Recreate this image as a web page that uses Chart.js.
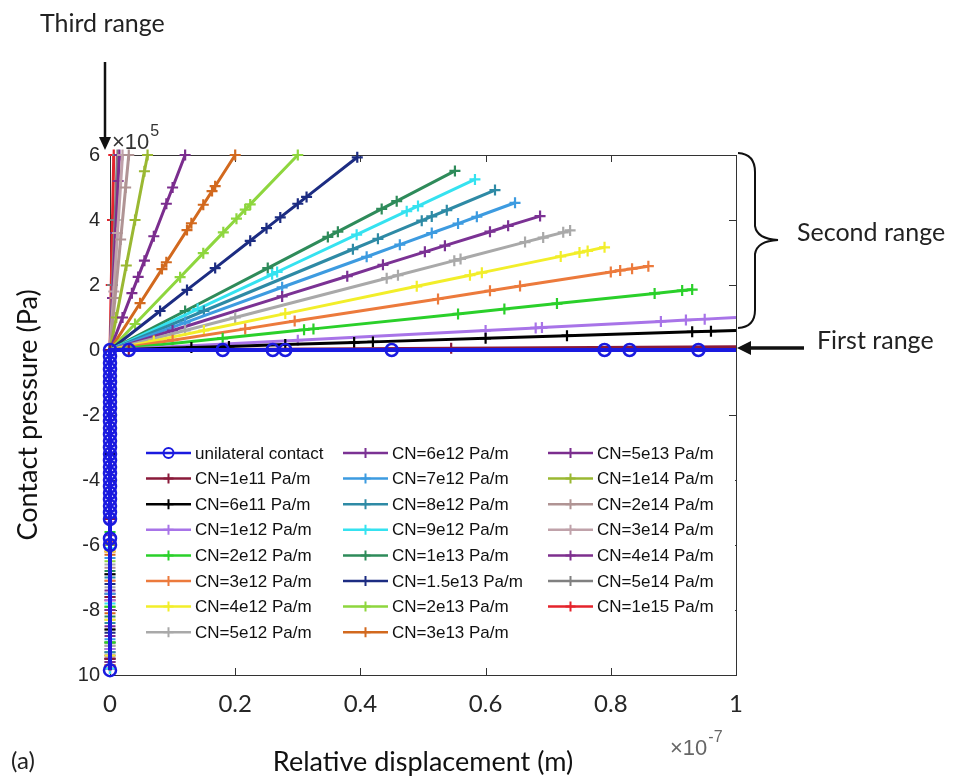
<!DOCTYPE html>
<html>
<head>
<meta charset="utf-8">
<script src="https://cdn.jsdelivr.net/npm/chart.js@4/dist/chart.umd.min.js"></script>
<style>
  body { margin: 0; background: #fff; }
  canvas { display: block; }
</style>
</head>
<body>
<canvas id="myChart" width="956" height="781"></canvas>
<script>
// series data (x in 1e-7 m, y in 1e5 Pa)
const labels = [
  'unilateral contact', 'CN=1e11 Pa/m', 'CN=6e11 Pa/m', 'CN=1e12 Pa/m', 'CN=2e12 Pa/m',
  'CN=3e12 Pa/m', 'CN=4e12 Pa/m', 'CN=5e12 Pa/m', 'CN=6e12 Pa/m', 'CN=7e12 Pa/m',
  'CN=8e12 Pa/m', 'CN=9e12 Pa/m', 'CN=1e13 Pa/m', 'CN=1.5e13 Pa/m', 'CN=2e13 Pa/m',
  'CN=3e13 Pa/m', 'CN=5e13 Pa/m', 'CN=1e14 Pa/m', 'CN=2e14 Pa/m', 'CN=3e14 Pa/m',
  'CN=4e14 Pa/m', 'CN=5e14 Pa/m', 'CN=1e15 Pa/m'
];

const colors = [
  '#1a1adf', '#8a1a3a', '#000000', '#a874e8', '#2ad02a',
  '#ec7a3c', '#f2ee2a', '#a9a9a9', '#7b3294', '#3d9be0',
  '#2e8aa5', '#35e2f0', '#2e8b5a', '#1c2c82', '#8ed63e',
  '#d2691e', '#7b2d8e', '#9ab832', '#b09494', '#c0a2aa',
  '#7e2f8e', '#808080', '#e5232b'
];

const xValues = [
  [0,0,0,0,0,0,0,0,0,0,0,0,0,0,0,0,0,0,0,0,0,0,0,0,0,0,0,0,0,0, 0.03,0.18,0.26,0.28,0.45,0.79,0.83,0.94,1],
  [0,0,0,0, 0.03,0.545,1],
  [0,0,0,0, 0.13,0.19,0.28,0.39,0.42,0.6,0.73,0.93,0.96,1],
  [0,0,0,0, 0.3,0.6,0.68,0.69,0.88,0.92,0.95,1],
  [0,0,0,0, 0.18,0.31,0.325,0.556,0.63,0.714,0.87,0.914,0.93],
  [0,0,0,0, 0.1,0.216,0.295,0.524,0.607,0.655,0.8,0.815,0.834,0.86],
  [0,0,0,0, 0.07,0.15,0.28,0.49,0.575,0.594,0.72,0.75,0.763,0.79],
  [0,0,0,0, 0.12,0.2,0.442,0.46,0.55,0.56,0.663,0.692,0.724,0.735],
  [0,0,0,0, 0.1,0.275,0.379,0.436,0.503,0.535,0.607,0.636,0.687],
  [0,0,0,0, 0.12,0.275,0.41,0.463,0.514,0.556,0.586,0.647],
  [0,0,0,0, 0.15,0.388,0.428,0.498,0.514,0.538,0.615],
  [0,0,0,0, 0.14,0.259,0.267,0.394,0.474,0.492,0.583],
  [0,0,0,0, 0.12,0.252,0.348,0.364,0.434,0.458,0.551],
  [0,0,0,0, 0.08,0.123,0.168,0.224,0.25,0.272,0.3,0.314,0.395],
  [0,0,0,0, 0.04,0.112,0.149,0.181,0.202,0.216,0.224,0.3],
  [0,0,0,0, 0.048,0.083,0.09,0.123,0.13,0.149,0.163,0.168,0.2],
  [0,0,0,0, 0.02,0.035,0.045,0.055,0.07,0.09,0.1,0.12],
  [0,0,0,0, 0.01,0.026,0.04,0.055,0.06],
  [0,0,0,0, 0.008,0.017,0.025,0.03],
  [0,0,0,0, 0.006,0.012,0.02],
  [0,0,0,0, 0.004,0.009,0.013,0.015],
  [0,0,0,0, 0.004,0.008,0.012],
  [0,0,0,0, 0.002,0.004,0.006]
];

const yValues = [
  [-9.85,-6.0,-5.8,-5.2,-5.0,-4.8,-4.6,-4.4,-4.2,-4.0,-3.8,-3.6,-3.4,-3.2,-3.0,-2.8,-2.6,-2.4,-2.2,-2.0,-1.8,-1.6,-1.4,-1.2,-1.0,-0.8,-0.6,-0.4,-0.2,0, 0,0,0,0,0,0,0,0,0],
  [-9.5,-7.6,-5.2,0, 0.003,0.055,0.1],
  [-8.6,-6.9,-3.2,0, 0.08,0.11,0.17,0.23,0.25,0.36,0.44,0.56,0.58,0.6],
  [-9.2,-7.7,-5.3,0, 0.3,0.6,0.68,0.69,0.88,0.92,0.95,1],
  [-9.0,-7.9,-5.6,0, 0.36,0.62,0.65,1.11,1.26,1.43,1.74,1.83,1.86],
  [-9.7,-7.1,-5.9,0, 0.3,0.65,0.89,1.57,1.82,1.97,2.4,2.45,2.5,2.58],
  [-9.4,-8.3,-6.2,0, 0.28,0.6,1.12,1.96,2.3,2.38,2.88,3.0,3.05,3.16],
  [-9.1,-7.3,-6.6,0, 0.6,1.0,2.21,2.3,2.75,2.8,3.32,3.46,3.62,3.68],
  [-9.6,-8.0,-5.7,0, 0.6,1.65,2.27,2.62,3.02,3.21,3.64,3.82,4.12],
  [-8.9,-7.5,-6.4,0, 0.84,1.93,2.87,3.24,3.6,3.89,4.1,4.53],
  [-9.3,-8.4,-7.0,0, 1.2,3.1,3.42,3.98,4.11,4.3,4.92],
  [-9.8,-7.8,-6.1,0, 1.26,2.33,2.4,3.55,4.27,4.43,5.25],
  [-9.0,-8.2,-6.8,0, 1.2,2.52,3.48,3.64,4.34,4.58,5.51],
  [-9.5,-8.7,-7.2,0, 1.2,1.85,2.52,3.36,3.75,4.08,4.5,4.71,5.93],
  [-9.2,-7.6,-6.5,0, 0.8,2.24,2.98,3.62,4.04,4.32,4.48,6],
  [-9.7,-8.1,-6.3,0, 1.44,2.49,2.7,3.69,3.9,4.47,4.89,5.04,6],
  [-9.4,-8.5,-7.4,0, 1.0,1.75,2.25,2.75,3.5,4.5,5.0,6],
  [-9.0,-7.9,-6.0,0, 1.0,2.6,4.0,5.5,6],
  [-9.6,-8.0,-6.7,0, 1.6,3.4,5.0,6],
  [-9.1,-8.3,-7.1,0, 1.8,3.6,6],
  [-9.8,-8.8,-7.5,0, 1.6,3.6,5.2,6],
  [-9.3,-8.6,-6.9,0, 2.0,4.0,6],
  [-9.5,-7.7,-6.2,0, 2.0,4.0,6]
];

const xTickLabels = ['0', '0.2', '0.4', '0.6', '0.8', '1'];
const yTickLabels = ['10', '-8', '-6', '-4', '-2', '0', '2', '4', '6'];

const datasets = labels.map(function (label, i) {
  const isCircle = i === 0;
  return {
    label: label,
    data: xValues[i].map(function (x, j) { return { x: x, y: yValues[i][j] }; }),
    showLine: true,
    borderColor: colors[i],
    backgroundColor: 'rgba(0,0,0,0)',
    borderWidth: isCircle ? 4 : 3,
    pointStyle: isCircle ? 'circle' : 'cross',
    pointRadius: function (c) { return c.raw && c.raw.x === 1 ? 0 : (isCircle ? 6 : 5.5); },
    pointBorderWidth: isCircle ? 2.5 : 2.2,
    pointBorderColor: colors[i],
    pointBackgroundColor: 'rgba(0,0,0,0)',
    tension: 0,
    clip: false
  };
});

function drawMarker(ctx, style, x, y, r) {
  ctx.beginPath();
  if (style === 'circle') {
    ctx.arc(x, y, r, 0, Math.PI * 2);
  } else {
    ctx.moveTo(x - r, y); ctx.lineTo(x + r, y);
    ctx.moveTo(x, y - r); ctx.lineTo(x, y + r);
  }
  ctx.stroke();
}

// "×10" with a superscript right after it
function drawPower(ctx, x, y, exp, size, color) {
  ctx.fillStyle = color;
  ctx.font = size + 'px "Liberation Sans", Arial, sans-serif';
  ctx.fillText('\u00d710', x, y);
  const w = ctx.measureText('\u00d710').width;
  ctx.font = Math.round(size * 0.72) + 'px "Liberation Sans", Arial, sans-serif';
  ctx.fillText(exp, x + w + 1, y - size * 0.6);
}

// axes box with inward ticks, legend and notes
const framePlugin = {
  id: 'frame',
  beforeDatasetsDraw(chart) {
    const ctx = chart.ctx;
    const a = chart.chartArea;
    const xs = chart.scales.x, ys = chart.scales.y;
    ctx.save();
    ctx.strokeStyle = '#333';
    ctx.lineWidth = 1;
    ctx.strokeRect(a.left + 0.5, a.top + 0.5, a.right - a.left, a.bottom - a.top);
    ctx.beginPath();
    xs.ticks.forEach(function (t) {
      const px = Math.round(xs.getPixelForValue(t.value)) + 0.5;
      ctx.moveTo(px, a.bottom); ctx.lineTo(px, a.bottom - 7);
      ctx.moveTo(px, a.top); ctx.lineTo(px, a.top + 7);
    });
    ys.ticks.forEach(function (t) {
      const py = Math.round(ys.getPixelForValue(t.value)) + 0.5;
      ctx.moveTo(a.left, py); ctx.lineTo(a.left + 7, py);
      ctx.moveTo(a.right, py); ctx.lineTo(a.right - 7, py);
    });
    ctx.stroke();
    ctx.restore();
  },
  afterDraw(chart) {
    const ctx = chart.ctx;
    const a = chart.chartArea;
    ctx.save();

    // legend
    ctx.fillStyle = '#fff';
    ctx.fillRect(136, 440, a.right - 137, 206);
    const cols = [146, 343, 548];
    ctx.font = '17px "Liberation Sans", Arial, sans-serif';
    ctx.textBaseline = 'middle';
    chart.data.datasets.forEach(function (ds, i) {
      const lx = cols[Math.floor(i / 8)];
      const ly = 453 + (i % 8) * 25.6;
      ctx.strokeStyle = ds.borderColor;
      ctx.lineWidth = 2.5;
      ctx.beginPath();
      ctx.moveTo(lx, ly); ctx.lineTo(lx + 45, ly);
      ctx.stroke();
      ctx.lineWidth = 2;
      drawMarker(ctx, ds.pointStyle, lx + 22.5, ly, 5);
      ctx.fillStyle = '#111';
      ctx.fillText(ds.label, lx + 49, ly + 1);
    });

    // exponent labels
    ctx.textBaseline = 'alphabetic';
    drawPower(ctx, 112, 149, '5', 22, '#333');
    drawPower(ctx, 670, 755, '-7', 22, '#666');

    // annotations
    ctx.fillStyle = '#222';
    ctx.font = '25px Lato, sans-serif';
    ctx.textBaseline = 'middle';
    ctx.fillText('Third range', 40, 24);
    ctx.fillText('Second range', 797, 233);
    ctx.fillText('First range', 817, 341);
    ctx.font = '24px Lato, sans-serif';
    ctx.fillText('(a)', 11, 761);

    ctx.strokeStyle = '#111';
    ctx.fillStyle = '#111';
    ctx.lineWidth = 2.5;
    ctx.beginPath();
    ctx.moveTo(105, 62); ctx.lineTo(105, 140);
    ctx.stroke();
    ctx.beginPath();
    ctx.moveTo(99, 137); ctx.lineTo(111, 137); ctx.lineTo(105, 150);
    ctx.closePath(); ctx.fill();

    ctx.lineWidth = 3.5;
    ctx.beginPath();
    ctx.moveTo(804, 348); ctx.lineTo(746, 348);
    ctx.stroke();
    ctx.beginPath();
    ctx.moveTo(737, 348); ctx.lineTo(751, 341); ctx.lineTo(751, 355);
    ctx.closePath(); ctx.fill();

    // brace
    ctx.lineWidth = 2;
    ctx.beginPath();
    ctx.moveTo(738, 153);
    ctx.quadraticCurveTo(755, 154, 755, 172);
    ctx.lineTo(755, 226);
    ctx.quadraticCurveTo(757, 239, 778, 240);
    ctx.quadraticCurveTo(757, 241, 755, 254);
    ctx.lineTo(755, 310);
    ctx.quadraticCurveTo(755, 327, 738, 328);
    ctx.stroke();

    ctx.restore();
  }
};

new Chart(document.getElementById('myChart').getContext('2d'), {
  type: 'scatter',
  data: { datasets: datasets },
  options: {
    responsive: false,
    animation: false,
    events: [],
    layout: { padding: { left: 0, top: 155, right: 220, bottom: 0 } },
    plugins: { legend: { display: false }, tooltip: { enabled: false } },
    scales: {
      x: {
        type: 'linear', min: 0, max: 1,
        afterFit: function (s) { s.height = 106; },
        border: { display: false },
        grid: { display: false, drawTicks: false },
        ticks: {
          stepSize: 0.2, padding: 15, color: '#262626',
          font: { family: 'Lato', size: 24 },
          callback: function (v, i) { return xTickLabels[i]; }
        },
        title: {
          display: true, text: 'Relative displacement (m)', color: '#111',
          font: { family: 'Lato', size: 27 }, padding: { top: 0, bottom: 3 }
        }
      },
      y: {
        type: 'linear', min: -10, max: 6,
        afterFit: function (s) { s.width = 110; },
        border: { display: false },
        grid: { display: false, drawTicks: false },
        ticks: {
          stepSize: 2, padding: 10, color: '#262626',
          font: { family: 'Liberation Sans', size: 20 },
          callback: function (v, i) { return yTickLabels[i]; }
        },
        title: {
          display: true, text: 'Contact pressure (Pa)', color: '#111',
          font: { family: 'Lato', size: 27 }, padding: { top: 12, bottom: 0 }
        }
      }
    }
  },
  plugins: [framePlugin]
});
</script>
</body>
</html>
